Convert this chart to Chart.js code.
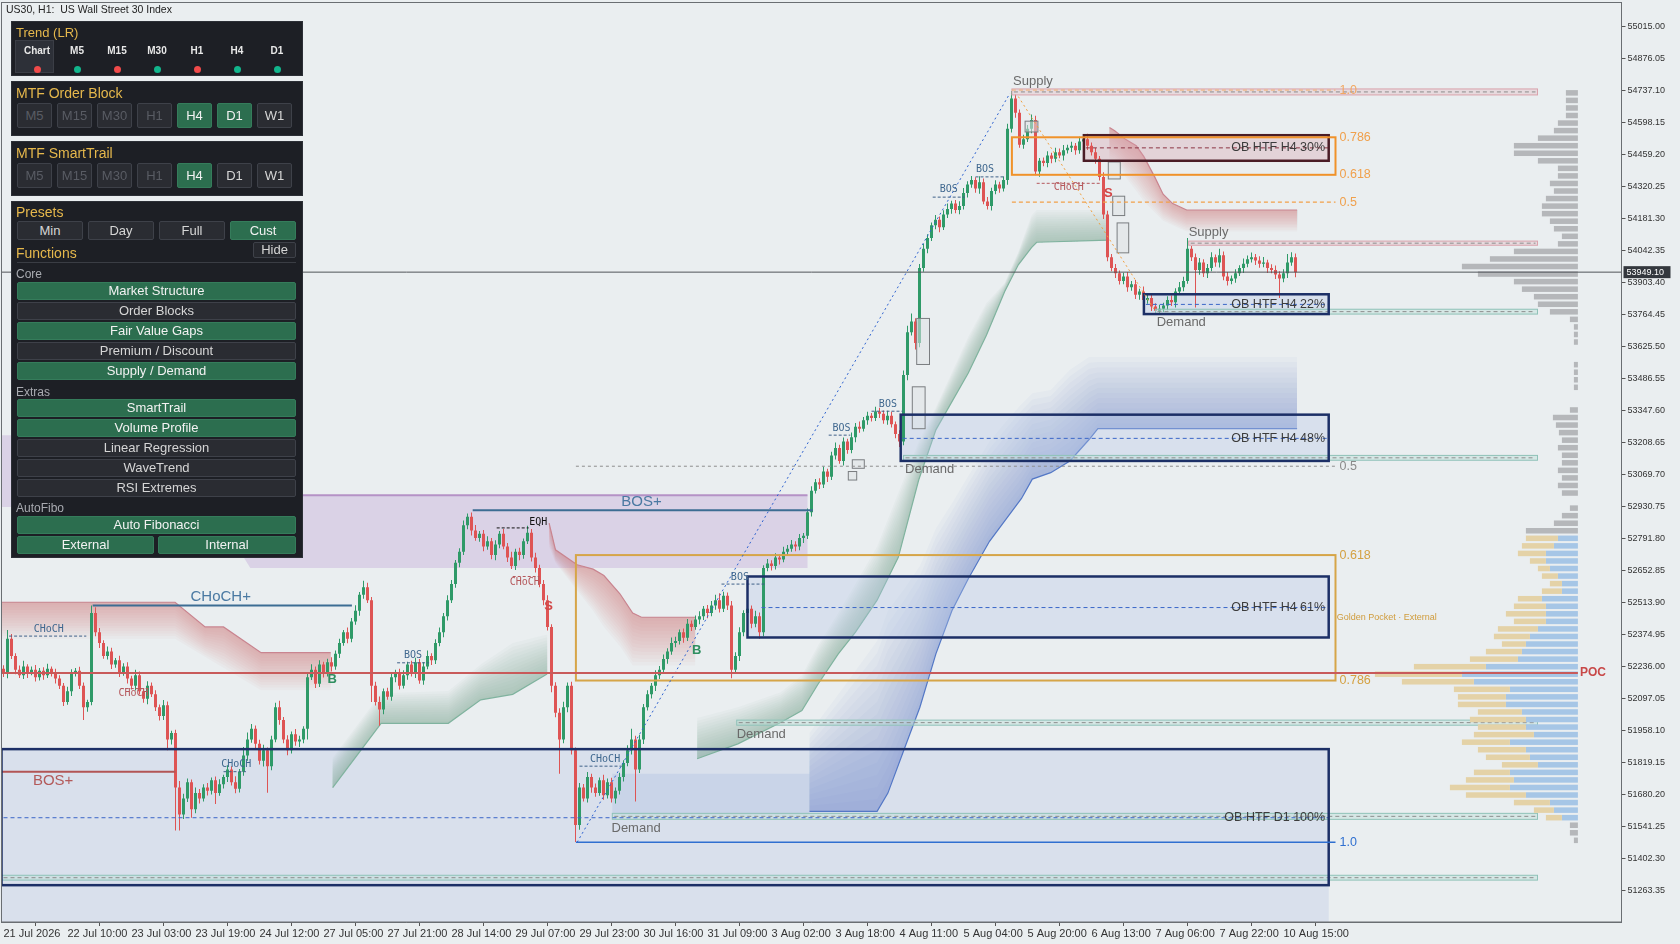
<!DOCTYPE html>
<html>
<head>
<meta charset="utf-8">
<title>US30, H1</title>
<script src="https://cdn.jsdelivr.net/npm/chart.js@4.4.1/dist/chart.umd.min.js"></script>
<style>
html, body { margin: 0; padding: 0; background: #eaeef0; overflow: hidden; }
#wrap { position: relative; width: 1680px; height: 944px; }
#c { position: absolute; left: 0; top: 0; }
#dash div { position: absolute; box-sizing: border-box; font-family: "Liberation Sans", Arial, sans-serif; white-space: nowrap; }
#dash .blk { background: #1d1f25; border: 1px solid #2c2f36; }
#dash .gold { color: #e6b84c; }
#dash .sub { color: #a9abb1; font-size: 12px; }
#dash .sel { background: #2d3038; border: 1px solid #3b3e46; }
#dash .tf { color: #e8e8e8; font-weight: bold; font-size: 10px; text-align: center; }
#dash .dot { border-radius: 50%; }
#dash .btn { border: 1px solid #3e4149; background: #2a2c32; color: #d6d6d6; text-align: center; border-radius: 2px; }
#dash .btn.on { background: #2c6e4f; border-color: #357c5b; color: #f2f2f2; }
#dash .btn.off { color: #595c64; }
</style>
</head>
<body>
<div id="wrap">
  <canvas id="c" width="1680" height="944"></canvas>
  <div id="dash"></div>
</div>
<script>
// ---------- chart values ----------
const firstOpen = 52226;
const closes = [
52208,52357,52282,52222,52198,52236,52208,52222,52189,52217,52198,52226,52208,52184,52152,52082,52128,52208,52217,52152,
52059,52082,52468,52385,52338,52282,52301,52245,52263,52208,52236,52184,52152,52198,52128,52096,52152,52115,52059,52021,
52068,51919,51947,51710,51593,51663,51733,51616,51686,51663,51710,51696,51742,51686,51724,51756,51789,51733,51705,51779,
51849,51919,51966,51900,51826,51872,51803,51919,52059,52003,51919,51872,51942,51910,51919,51966,52189,52222,52161,52245,
52208,52254,52236,52291,52338,52385,52357,52431,52478,52548,52580,52524,52152,52082,52049,52128,52105,52189,52208,52152,
52198,52245,52208,52254,52175,52236,52282,52263,52338,52385,52454,52524,52594,52687,52734,52850,52887,52827,52794,52813,
52757,52780,52720,52766,52813,52757,52710,52673,52734,52720,52780,52817,52710,52664,52594,52524,52408,52152,52035,51919,
52059,52152,51872,51547,51710,51663,51756,51710,51686,51742,51677,51733,51663,51696,51756,51817,51872,51919,51789,51919,
52059,52115,52152,52198,52222,52268,52301,52338,52347,52385,52361,52422,52408,52440,52454,52487,52468,52501,52524,52487,
52543,52501,52222,52282,52385,52468,52487,52422,52454,52385,52664,52683,52673,52710,52701,52734,52748,52766,52757,52794,
52804,52906,52999,53036,53027,53083,53060,53153,53185,53129,53213,53176,53232,53278,53269,53306,53325,53316,53344,53334,
53306,53325,53288,53246,53213,53502,53688,53735,53641,53967,54051,54098,54153,54177,54144,54200,54223,54247,54219,54237,
54293,54330,54349,54312,54340,54256,54237,54302,54330,54312,54349,54572,54703,54642,54503,54526,54572,54610,54386,54433,
54423,54456,54442,54470,54456,54479,54489,54498,54479,54517,54526,54498,54470,54442,54363,54200,54014,53967,53944,53911,
53930,53884,53897,53851,53865,53828,53837,53800,53781,53790,53804,53828,53818,53865,53884,53911,54051,54014,53958,53991,
53944,53967,54014,53991,54023,53930,53911,53921,53944,53967,53986,54005,54014,54000,53986,53991,53967,53958,53939,53921,
53944,53991,54014,53949.1
];
// wick length above / below the body, in points
const wickUp = [
15,37,20,12,18,25,10,14,20,12,16,22,10,18,14,12,20,16,12,18,
14,10,33,25,18,12,22,16,10,20,14,18,12,24,16,10,20,14,18,12,
22,16,10,14,28,20,16,12,24,18,14,20,12,16,22,10,18,14,26,12,
37,30,20,14,18,24,12,16,20,28,14,18,12,22,16,10,20,24,14,18,
12,16,22,14,18,10,20,16,24,12,28,20,14,18,24,12,16,20,14,18,
22,12,16,20,14,18,24,12,16,20,14,22,18,12,16,20,14,18,24,12,
16,22,14,18,12,20,16,24,14,18,12,30,16,20,14,18,22,12,16,20,
24,14,18,12,20,16,22,14,18,12,24,16,20,14,18,12,22,47,16,20,
14,18,12,22,16,20,14,24,18,12,16,20,14,18,22,12,16,20,24,30,
18,14,20,16,22,12,18,14,24,16,12,20,14,18,12,22,16,20,14,18,
12,16,20,14,18,22,12,16,24,14,18,12,20,16,22,14,18,12,20,16,
14,22,18,12,16,20,28,35,14,18,22,16,12,20,14,18,24,12,16,20,
22,14,18,12,26,16,20,14,18,12,16,22,33,18,14,20,16,24,18,12,
14,18,12,20,16,22,14,18,12,20,16,24,14,18,12,20,16,14,18,12,
16,20,14,18,12,22,16,20,14,18,12,16,20,14,22,18,47,12,16,20,
14,18,22,12,28,16,20,14,18,12,22,16,20,14,18,24,12,16,20,14,
18,37,22,16
];
const wickDn = [
18,23,14,20,12,16,22,10,18,14,20,12,16,22,14,18,12,20,16,14,
56,20,14,18,22,12,16,20,14,18,12,22,16,20,14,18,24,12,16,20,
18,47,22,186,70,20,16,37,18,22,14,20,16,47,12,18,22,14,20,16,
18,22,14,20,16,24,116,18,12,20,16,22,14,18,24,16,47,12,18,14,
20,16,22,14,18,12,20,16,14,22,18,12,70,16,70,20,14,18,22,16,
12,20,16,22,14,18,12,20,16,14,22,18,12,16,20,14,18,22,12,16,
20,14,18,22,16,12,20,14,18,22,16,12,18,20,14,22,16,28,20,149,
16,22,18,74,20,14,18,22,16,12,20,14,18,22,16,20,14,18,140,16,
20,14,18,22,16,12,20,14,18,16,22,14,18,12,20,16,22,14,18,16,
14,20,37,16,22,18,14,20,16,28,18,14,20,16,22,12,18,14,20,16,
22,14,18,12,20,16,22,14,18,12,20,16,14,22,18,12,20,16,14,18,
16,20,14,18,24,16,22,14,28,18,16,20,14,18,22,12,16,20,14,18,
16,20,14,18,22,12,16,20,14,18,12,20,16,22,14,18,12,20,16,22,
14,18,20,16,12,22,14,18,20,16,12,18,14,22,16,20,18,14,20,16,
14,20,16,18,22,14,16,20,12,18,14,20,16,22,14,18,12,16,163,20,
16,20,14,18,22,16,20,14,18,12,22,16,14,20,18,16,22,14,20,84,
16,20,14,22
];
const currentPrice = 53949.10;
const priceTicks = [55015.00,54876.05,54737.10,54598.15,54459.20,54320.25,54181.30,54042.35,53903.40,53764.45,
  53625.50,53486.55,53347.60,53208.65,53069.70,52930.75,52791.80,52652.85,52513.90,52374.95,52236.00,52097.05,
  51958.10,51819.15,51680.20,51541.25,51402.30,51263.35];
const tickBars = [0,16,32,48,64,80,96,112,128,144,160,176,192,208,224,240,256,272,288,304,320];
const tickLabels = ['21 Jul 2026','22 Jul 10:00','23 Jul 03:00','23 Jul 19:00','24 Jul 12:00','27 Jul 05:00',
  '27 Jul 21:00','28 Jul 14:00','29 Jul 07:00','29 Jul 23:00','30 Jul 16:00','31 Jul 09:00','3 Aug 02:00',
  '3 Aug 18:00','4 Aug 11:00','5 Aug 04:00','5 Aug 20:00','6 Aug 13:00','7 Aug 06:00','7 Aug 22:00','10 Aug 15:00'];
const slotCount = 405;

// volume profile rows (top row first), buy part null = neutral row
const vpTop = 54728, vpStep = 32.8, vpRightBar = 393.6, pocPrice = 52208;
const vpTotal = [
120,120,120,120,200,240,400,640,640,400,200,200,280,240,320,360,360,280,240,160,
200,640,880,1160,1000,640,560,440,400,280,80,40,40,40,0,0,40,40,40,40,
0,0,80,250,220,190,160,200,160,160,200,160,200,160,0,80,160,240,520,520,
560,600,480,400,360,280,360,600,640,720,640,800,840,760,920,1080,1640,2030,1760,1240,
1200,1200,1000,1080,1000,1040,1160,1000,920,760,1040,1120,1280,1120,640,440,320,80,80,40];
const vpBuy = [
null,null,null,null,null,null,null,null,null,null,null,null,null,null,null,null,null,null,null,null,
null,null,null,null,null,null,null,null,null,null,null,null,null,null,null,null,null,null,null,null,
null,null,null,null,null,null,null,null,null,null,null,null,null,null,null,null,null,null,null,200,
240,320,320,280,200,160,160,360,320,320,320,400,480,520,560,600,920,1160,1040,680,
720,720,560,520,520,440,680,520,480,400,680,640,680,520,280,240,160,null,null,null];

// order blocks: label, fromBar, toBar, top, bottom, mid, side
const orderBlocks = [
  ['OB HTF D1 100%', -0.5, 331.3, 51877, 51286, 51579, 'bull'],
  ['OB HTF H4 61%', 186, 331.3, 52627, 52362, 52492, 'bull'],
  ['OB HTF H4 48%', 224.3, 331.3, 53330, 53129, 53227, 'bull'],
  ['OB HTF H4 22%', 285.1, 331.3, 53853, 53767, 53809, 'bull'],
  ['OB HTF H4 30%', 270.1, 331.3, 54544, 54433, 54489, 'bear']
];
// supply / demand zones: kind, fromBar, toBar, top, bottom, label bar, label price
const zones = [
  ['Supply', 252.1, 383.5, 54745, 54719, 252.4, 54777],
  ['Supply', 296.3, 383.5, 54084, 54066, 296.3, 54121],
  ['Demand', 288, 383.5, 53788, 53767, 288.3, 53732],
  ['Demand', 225, 383.5, 53153, 53132, 225.4, 53092],
  ['Demand', 183.3, 383.5, 52003, 51981, 183.3, 51942],
  ['Demand', 152.2, 383.5, 51598, 51572, 152, 51533],
  ['Demand', -0.5, 383.5, 51329, 51308, null, null]
];
// fair value gaps: fromBar, toBar, top, bottom
const gaps = [
  [255.4,258.6,54605,54558],[276.2,279.2,54428,54354],[277.3,280.3,54279,54195],[278.4,281.3,54163,54033],
  [228.3,231.5,53748,53548],[227.2,230.4,53451,53269],[212.2,215.2,53134,53097],[211.2,213.3,53083,53046]
];
// structure levels: fromBar, toBar, price, kind
const levels = [
  [1.4,20.7,52368,'bull'],[29.3,36.2,52140,'bear'],[55,60.6,51779,'bull'],[98.4,106.4,52252,'bull'],
  [123.3,131.3,52838,'eqh'],[127.3,134,52627,'bear'],[144,154.6,51803,'bull'],[179.5,190.3,52594,'bull'],
  [206.3,211.7,53241,'bull'],[217,224.8,53345,'bull'],[232.3,240.3,54275,'bull'],[243,250.3,54363,'bull'],
  [258.3,274.1,54335,'bear'],
  [22.3,87.1,52501,'bullMajor'],[117.3,202.3,52915,'bullMajor'],[-0.5,43,51779,'bearMajor']
];
// structure labels: text, bar, price, kind
const marks = [
  ['CHoCH',11.3,52399,'bull'],['CHoCH',32.5,52120,'bear'],['CHoCH',58.2,51812,'bull'],['BOS',102.4,52282,'bull'],
  ['EQH',133.7,52862,'eqh'],['CHoCH',130.3,52601,'bear'],['CHoCH',150.4,51831,'bull'],['BOS',184.1,52622,'bull'],
  ['BOS',209.5,53271,'bull'],['BOS',221.1,53376,'bull'],['BOS',236.3,54307,'bull'],['BOS',245.4,54396,'bull'],
  ['CHoCH',266.3,54316,'bear'],
  ['CHoCH+',54.3,52538,'bullMajor'],['BOS+',159.5,52953,'bullMajor'],['BOS+',12.4,51738,'bearMajor'],
  ['B',82.2,52181,'buy'],['B',173.3,52306,'buy'],['S',136.3,52496,'sell'],['S',276.2,54293,'sell']
];
// premium/discount band (lavender): bar, price polygon
const lavender = [[-0.5,53241],[61.7,53241],[74.6,52980],[201,52980],[201,52664],[61.7,52664],[52.3,52929],[-0.5,52929]];
const lavenderTop = [74.6, 201, 52980];
const demandFill = [152.2, 201.5, 51770, 51593];
// smart trail bands: [bar, line price, far price]
const trailRed = [
  [[-0.5,52515,52357],[42.9,52515,52357],[50.4,52408,52278],[55,52408,52231],[64.4,52296,52133],[81.8,52296,52133]],
  [[136.4,52859,52757],[138,52743,52687],[143.4,52678,52566],[147.4,52659,52478],[150.1,52631,52408],[154.1,52552,52324],[157.3,52468,52240],[159.5,52450,52240],[172.9,52450,52240]],
  [[276.5,54577,54437],[277.8,54563,54423],[279.5,54540,54391],[280.5,54526,54363],[283.2,54498,54302],[285.1,54451,54256],[287.8,54363,54209],[289.9,54288,54172],[292.3,54247,54153],[295.8,54219,54126],[323.4,54219,54126]]
];
const trailGreen = [
  [[82.3,51710,51840],[94.4,51989,52120],[111.2,51989,52129],[119.3,52091,52245],[127.3,52115,52338],[135.9,52203,52375]],
  [[173.4,51835,52012],[183.6,51900,52059],[194.3,51993,52124],[199.6,52045,52198],[203.7,52161,52329],[208.7,52291,52468],
   [213,52385,52594],[218.4,52524,52757],[223.7,52710,52990],[228.8,53046,53213],[233.1,53264,53362],[241.2,53511,53669],
   [245.7,53674,53814],[250.3,53865,53902],[253.7,53981,54037],[257,54056,54195],[258.3,54079,54219],[276.2,54088,54219]]
];
const trailBlue = [[201.5,51607,51947],[210.3,51607,52152],[218.4,51607,52347],[221.1,51686,52478],[225.1,51873,52571],
  [229.1,52059,52673],[233.1,52291,52836],[237.1,52478,52944],[241.2,52617,53064],[246.5,52780,53213],[250.5,52873,53297],
  [254.5,52966,53376],[257.2,53050,53423],[261.8,53078,53437],[266.6,53129,53525],[271.4,53222,53581],[273.6,53269,53581],[323.4,53269,53581]];
// fibonacci
const fibUpper = { from: 252.1, to: 333, labelBar: 334, levels: [['1.0',54740],['0.786',54535],['0.618',54372],['0.5',54253]] };
const fibLower = { from: 143.1, to: 333, labelBar: 334, levels: [['0.5',53106],['0.618',52720],['0.786',52175],['1.0',51472]] };
const fibDiagBlue = [[143.4,51472],[251.6,54726]];
const fibDiagOrange = [[253.7,54712],[287.9,53781]];

// ---------- candles ----------
const UP = '#2f9a68', DOWN = '#de5454';
const opens = closes.map((c, i) => i === 0 ? firstOpen : closes[i - 1]);
const highs = closes.map((c, i) => Math.max(opens[i], c) + wickUp[i]);
const lows = closes.map((c, i) => Math.min(opens[i], c) - wickDn[i]);
const candleColors = closes.map((c, i) => c >= opens[i] ? UP : DOWN);
const slots = Array.from({ length: slotCount }, (_, i) => i);

// ---------- drawing helpers ----------
function poly(c, pts, fill) {
  c.beginPath();
  pts.forEach((p, j) => j ? c.lineTo(p[0], p[1]) : c.moveTo(p[0], p[1]));
  c.closePath(); c.fillStyle = fill; c.fill();
}
function hline(c, x0, x1, y, color, w, dash) {
  c.beginPath(); c.setLineDash(dash || []); c.strokeStyle = color; c.lineWidth = w;
  c.moveTo(x0, y); c.lineTo(x1, y); c.stroke(); c.setLineDash([]);
}
function label(c, t, x, y, font, color, align) {
  c.font = font; c.fillStyle = color; c.textAlign = align || 'left'; c.textBaseline = 'middle';
  c.fillText(t, x, y);
}
function trail(c, X, Y, cols, rgb, alpha, lineColor) {
  const N = 14;
  for (let k = 1; k <= N; k++) {
    const t = k / N, pts = [];
    cols.forEach(q => pts.push([X(q[0]), Y(q[1])]));
    for (let j = cols.length - 1; j >= 0; j--) {
      const q = cols[j];
      pts.push([X(q[0]), Y(q[1] + (q[2] - q[1]) * t)]);
    }
    poly(c, pts, 'rgba(' + rgb + ',' + alpha + ')');
  }
  c.beginPath();
  cols.forEach((q, j) => j ? c.lineTo(X(q[0]), Y(q[1])) : c.moveTo(X(q[0]), Y(q[1])));
  c.strokeStyle = lineColor; c.lineWidth = 1.2; c.stroke();
}
const noPad = s => { s.paddingTop = 0; s.paddingBottom = 0; s.paddingLeft = 0; s.paddingRight = 0; };

const overlay = {
  id: 'overlay',
  beforeDraw(chart) {
    const c = chart.ctx;
    c.save(); c.fillStyle = '#eaeef0'; c.fillRect(0, 0, chart.width, chart.height); c.restore();
  },
  beforeDatasetsDraw(chart) {
    const c = chart.ctx, a = chart.chartArea, xs = chart.scales.x, ys = chart.scales.y;
    const X = v => xs.getPixelForValue(v), Y = v => ys.getPixelForValue(v);
    c.save();
    c.beginPath(); c.rect(a.left, a.top, a.right - a.left, a.bottom - a.top); c.clip();
    poly(c, lavender.map(p => [X(p[0]), Y(p[1])]), 'rgba(204,188,222,0.55)');
    const d1 = orderBlocks[0];
    c.fillStyle = 'rgba(192,206,230,0.42)';
    c.fillRect(X(d1[1]), Y(d1[3]), X(d1[2]) - X(d1[1]), a.bottom - Y(d1[3]));
    c.fillStyle = 'rgba(160,182,222,0.28)';
    c.fillRect(X(demandFill[0]), Y(demandFill[2]), X(demandFill[1]) - X(demandFill[0]), Y(demandFill[3]) - Y(demandFill[2]));
    trailRed.forEach(b => trail(c, X, Y, b, '200,105,118', 0.042, '#c98590'));
    trailGreen.forEach(b => trail(c, X, Y, b, '105,168,142', 0.042, '#80b39f'));
    trail(c, X, Y, trailBlue, '88,118,196', 0.036, '#5478c6');
    orderBlocks.slice(1).forEach(o => {
      c.fillStyle = o[6] === 'bear' ? 'rgba(214,160,172,0.35)' : 'rgba(178,196,230,0.33)';
      c.fillRect(X(o[1]), Y(o[3]), X(o[2]) - X(o[1]), Y(o[4]) - Y(o[3]));
    });
    c.restore();
  },
  afterDatasetsDraw(chart) {
    const c = chart.ctx, a = chart.chartArea, xs = chart.scales.x, ys = chart.scales.y;
    const X = v => xs.getPixelForValue(v), Y = v => ys.getPixelForValue(v);
    c.save();
    c.beginPath(); c.rect(a.left, a.top, a.right - a.left, a.bottom - a.top); c.clip();

    // supply / demand
    zones.forEach(z => {
      const sup = z[0] === 'Supply';
      const x0 = X(z[1]), x1 = X(z[2]), y0 = Y(z[3]), y1 = Y(z[4]);
      c.fillStyle = sup ? 'rgba(228,192,200,0.45)' : 'rgba(188,222,214,0.45)';
      c.fillRect(x0, y0, x1 - x0, y1 - y0);
      c.strokeStyle = sup ? '#d9a2ac' : '#8fc2b8'; c.lineWidth = 1;
      c.strokeRect(x0, y0, x1 - x0, y1 - y0);
      hline(c, x0 + 2, x1 - 2, (y0 + y1) / 2, '#8c8c8c', 1, [4, 3]);
    });
    // fair value gaps
    gaps.forEach(g => {
      const x0 = X(g[0]), x1 = X(g[1]), y0 = Y(g[2]), y1 = Y(g[3]);
      c.fillStyle = 'rgba(222,228,230,0.55)'; c.fillRect(x0, y0, x1 - x0, y1 - y0);
      c.strokeStyle = '#7a7d80'; c.lineWidth = 1; c.strokeRect(x0, y0, x1 - x0, y1 - y0);
    });
    // lavender top + BOS/CHoCH levels
    hline(c, X(lavenderTop[0]), X(lavenderTop[1]), Y(lavenderTop[2]), '#b592c6', 2);
    levels.forEach(l => {
      const y = Y(l[2]), x0 = X(l[0]), x1 = X(l[1]);
      if (l[3] === 'bull') hline(c, x0, x1, y, '#3f6088', 1, [3, 2]);
      else if (l[3] === 'bear') hline(c, x0, x1, y, '#b5585c', 1, [3, 2]);
      else if (l[3] === 'eqh') hline(c, x0, x1, y, '#111', 1, [3, 2]);
      else if (l[3] === 'bullMajor') hline(c, x0, x1, y, '#3c6d93', 2);
      else hline(c, x0, x1, y, '#b25555', 2);
    });
    // order block borders + midlines
    orderBlocks.forEach(o => {
      const x0 = X(o[1]), x1 = X(o[2]), y0 = Y(o[3]), y1 = Y(o[4]);
      const bear = o[6] === 'bear';
      hline(c, x0 + (o[0] === 'OB HTF H4 61%' ? 14 : 2), x1, Y(o[5]), bear ? '#8c3544' : '#3a66c8', 1, [4, 3]);
      c.strokeStyle = bear ? '#4a1c26' : '#1c2f66'; c.lineWidth = 2.5;
      c.strokeRect(x0, y0, x1 - x0, y1 - y0);
      label(c, o[0], X(330.4), Y(o[5]), '12.5px "Liberation Sans", Arial', '#3c3c3c', 'right');
    });
    // fibonacci
    const ub = fibUpper, lb = fibLower;
    c.strokeStyle = '#f0922a'; c.lineWidth = 2;
    c.strokeRect(X(ub.from), Y(ub.levels[1][1]), X(ub.to) - X(ub.from), Y(ub.levels[2][1]) - Y(ub.levels[1][1]));
    hline(c, X(ub.from), X(ub.to), Y(ub.levels[3][1]), '#f2a048', 1.2, [4, 3]);
    hline(c, X(ub.from), X(ub.to), Y(ub.levels[0][1]), '#f2b070', 1, [4, 3]);
    ub.levels.forEach(l => label(c, l[0], X(ub.labelBar), Y(l[1]), '12.5px "Liberation Sans", Arial', l[0] === '1.0' ? '#f2a862' : '#f0a04c'));
    c.strokeStyle = '#d6a548'; c.lineWidth = 2;
    c.strokeRect(X(lb.from), Y(lb.levels[1][1]), X(lb.to) - X(lb.from), Y(lb.levels[2][1]) - Y(lb.levels[1][1]));
    hline(c, X(lb.from), X(lb.to), Y(lb.levels[0][1]), '#8e8e8e', 1, [3, 3]);
    hline(c, X(lb.from), X(lb.to), Y(lb.levels[3][1]), '#2f6fd0', 1.5);
    const lowCol = { '0.5': '#8a8a8a', '0.618': '#d4a142', '0.786': '#d4a142', '1.0': '#2f6fd0' };
    lb.levels.forEach(l => label(c, l[0], X(lb.labelBar), Y(l[1]), '12.5px "Liberation Sans", Arial', lowCol[l[0]]));
    label(c, 'Golden Pocket \u00b7 External', X(333.3), Y(52450), '9px "Liberation Sans", Arial', '#d09c3c');
    [[fibDiagBlue, '#2f63d0'], [fibDiagOrange, '#f0a040']].forEach(d => {
      c.beginPath(); c.setLineDash([2, 3]); c.strokeStyle = d[1]; c.lineWidth = 1;
      c.moveTo(X(d[0][0][0]), Y(d[0][0][1])); c.lineTo(X(d[0][1][0]), Y(d[0][1][1])); c.stroke(); c.setLineDash([]);
    });
    // volume profile
    const unit = (X(1) - X(0)) / 40, right = X(vpRightBar);
    vpTotal.forEach((v, k) => {
      if (!v) return;
      const yc = Y(vpTop - k * vpStep), h = Math.abs(Y(0) - Y(vpStep)) * 0.73;
      if (vpBuy[k] === null) {
        c.fillStyle = '#b5b7ba'; c.fillRect(right - v * unit, yc - h / 2, v * unit, h);
      } else {
        const b = vpBuy[k];
        c.fillStyle = '#a6c6e6'; c.fillRect(right - b * unit, yc - h / 2, b * unit, h);
        c.fillStyle = '#e4d2a7'; c.fillRect(right - v * unit, yc - h / 2, (v - b) * unit, h);
      }
    });
    hline(c, X(-0.5), right, Y(pocPrice), '#c85a5a', 2);
    label(c, 'POC', right + 2, Y(pocPrice), 'bold 12px "Liberation Sans", Arial', '#c84848');
    // current price line
    hline(c, a.left, a.right, Y(currentPrice), '#505458', 1);
    // structure labels
    const mcol = { bull: '#40688f', bear: '#b5585c', eqh: '#111', bullMajor: '#4a79a2', bearMajor: '#b35a5a', buy: '#2f8f60', sell: '#d24848' };
    marks.forEach(m => {
      let font = '10px "DejaVu Sans Mono", monospace';
      if (m[3] === 'bullMajor' || m[3] === 'bearMajor') font = '15px "Liberation Sans", Arial';
      if (m[3] === 'buy' || m[3] === 'sell') font = 'bold 13px "Liberation Sans", Arial';
      label(c, m[0], X(m[1]), Y(m[2]), font, mcol[m[3]], 'center');
    });
    zones.forEach(z => { if (z[5] !== null) label(c, z[0], X(z[5]), Y(z[6]), '13px "Liberation Sans", Arial', '#6a6a6a'); });
    c.restore();
  },
  afterDraw(chart) {
    const c = chart.ctx, a = chart.chartArea, ys = chart.scales.y;
    c.save();
    c.strokeStyle = '#6a6e72'; c.lineWidth = 1;
    c.strokeRect(a.left, a.top + 0.5, a.right - a.left, a.bottom - a.top - 0.5);
    label(c, 'US30, H1:  US Wall Street 30 Index', 6, 10, '10.5px "Liberation Sans", Arial', '#222');
    const y = ys.getPixelForValue(currentPrice);
    c.fillStyle = '#34383e'; c.fillRect(a.right + 2, y - 6, 47, 12);
    label(c, currentPrice.toFixed(2), a.right + 5, y, '9px "Liberation Sans", Arial', '#fff');
    c.restore();
  }
};

new Chart(document.getElementById('c'), {
  type: 'bar',
  data: {
    labels: slots,
    datasets: [
      { data: lows.map((l, i) => [l, highs[i]]), backgroundColor: candleColors, barThickness: 1, grouped: false, inflateAmount: 0, borderWidth: 0 },
      { data: opens.map((o, i) => [o, closes[i]]), backgroundColor: candleColors, barThickness: 3, grouped: false, inflateAmount: 0, borderWidth: 0, minBarLength: 1 }
    ]
  },
  options: {
    responsive: false, animation: false, devicePixelRatio: 1,
    layout: { padding: { left: 1.5, top: 2, right: 0, bottom: 0 } },
    plugins: { legend: { display: false }, tooltip: { enabled: false } },
    scales: {
      x: {
        type: 'category', offset: true,
        grid: { drawOnChartArea: false, drawTicks: true, tickLength: 4, color: '#555' },
        border: { display: true, color: '#6a6e72' },
        afterBuildTicks: s => { s.ticks = tickBars.map(v => ({ value: v })); },
        afterFit: s => { s.height = 22; noPad(s); },
        ticks: {
          autoSkip: false, maxRotation: 0, minRotation: 0, align: 'start', padding: 1,
          color: '#333', font: { family: '"Liberation Sans Narrow", "Arial Narrow", sans-serif', size: 11 },
          callback: (v, i) => tickLabels[i]
        }
      },
      y: {
        type: 'linear', position: 'right', min: 51126, max: 55122.7,
        grid: { drawOnChartArea: false, drawTicks: true, tickLength: 4, color: '#555' },
        border: { display: true, color: '#6a6e72' },
        afterBuildTicks: s => { s.ticks = priceTicks.map(v => ({ value: v })); },
        afterFit: s => { s.width = 58.5; noPad(s); },
        ticks: { padding: 2, color: '#333', font: { family: '"Liberation Sans", Arial', size: 9 }, callback: v => v.toFixed(2) }
      }
    }
  },
  plugins: [overlay]
});

// ---------- dashboard panel ----------
const dash = document.getElementById('dash');
function add(cls, x, y, w, h, text, size) {
  const d = document.createElement('div');
  d.className = cls;
  Object.assign(d.style, { left: x + 'px', top: y + 'px', width: w + 'px', height: h + 'px', lineHeight: (h - 2) + 'px' });
  if (size) d.style.fontSize = size + 'px';
  if (text) d.textContent = text;
  dash.appendChild(d);
  return d;
}
[[21, 55], [81, 55], [141, 55], [201, 357]].forEach(b => add('blk', 11, b[0], 292, b[1]));
[['Trend (LR)', 33, 13], ['MTF Order Block', 93, 14], ['MTF SmartTrail', 153, 14], ['Presets', 212, 14], ['Functions', 253, 14]]
  .forEach(t => { const d = add('gold', 16, t[1] - 9, 200, 18, t[0], t[2]); d.style.lineHeight = '18px'; });
[['Core', 274], ['Extras', 392], ['AutoFibo', 508]].forEach(t => { const d = add('sub', 16, t[1] - 8, 100, 16, t[0]); d.style.lineHeight = '16px'; });
add('sel', 15, 40, 39, 33);
const trendNames = ['Chart', 'M5', 'M15', 'M30', 'H1', 'H4', 'D1'];
const trendDots = ['#f04a4a', '#12b58c', '#f04a4a', '#12b58c', '#f04a4a', '#12b58c', '#12b58c'];
trendNames.forEach((n, k) => {
  const cx = 37 + 40 * k;
  const t = add('tf', cx - 18, 44, 36, 13, n); t.style.lineHeight = '13px';
  const d = add('dot', cx - 3.5, 65.5, 7, 7); d.style.background = trendDots[k];
});
const tfNames = ['M5', 'M15', 'M30', 'H1', 'H4', 'D1', 'W1'];
const obState = ['off', 'off', 'off', 'off', 'on', 'on', ''];
const stState = ['off', 'off', 'off', 'off', 'on', '', ''];
tfNames.forEach((n, k) => {
  add('btn ' + obState[k], 17 + 40 * k, 103, 35, 25, n, 13);
  add('btn ' + stState[k], 17 + 40 * k, 163, 35, 25, n, 13);
});
[['Min', 17, ''], ['Day', 88, ''], ['Full', 159, ''], ['Cust', 230, 'on']].forEach(p => add('btn ' + p[2], p[1], 221, 66, 19, p[0], 13));
add('btn', 253, 242, 43, 16, 'Hide', 13).style.background = '#26282e';
add('sep', 17, 262, 279, 1).style.background = '#3a3d44';
[['Market Structure', 282, 1], ['Order Blocks', 302, 0], ['Fair Value Gaps', 322, 1], ['Premium / Discount', 342, 0], ['Supply / Demand', 362, 1],
 ['SmartTrail', 399, 1], ['Volume Profile', 419, 1], ['Linear Regression', 439, 0], ['WaveTrend', 459, 0], ['RSI Extremes', 479, 0],
 ['Auto Fibonacci', 516, 1]].forEach(f => add('btn' + (f[2] ? ' on' : ''), 17, f[1], 279, 18, f[0], 13));
add('btn on', 17, 536, 137, 18, 'External', 13);
add('btn on', 158, 536, 138, 18, 'Internal', 13);
</script>
</body>
</html>
